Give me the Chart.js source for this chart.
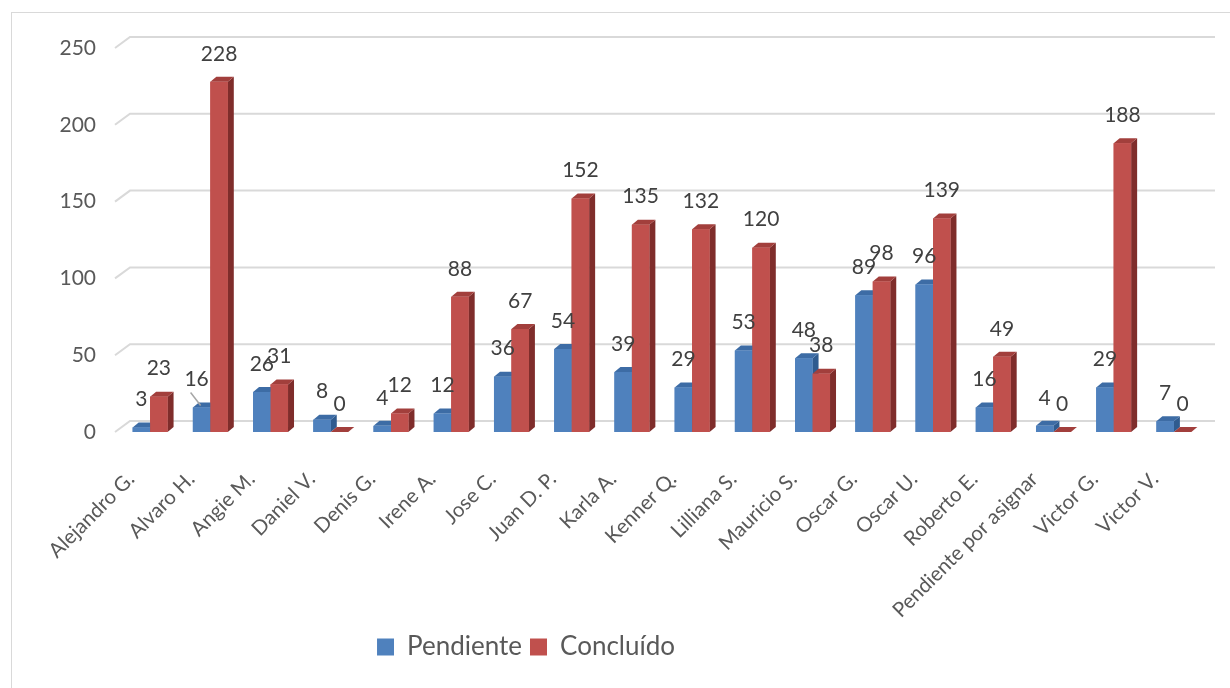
<!DOCTYPE html>
<html>
<head>
<meta charset="utf-8">
<script src="https://cdn.jsdelivr.net/npm/chart.js@4"></script>
<style>
  html, body { margin: 0; padding: 0; background: #fff; }
</style>
</head>
<body>
<canvas id="chart" width="1230" height="688"></canvas>
<script>
const categories = ["Alejandro G.", "Alvaro H.", "Angie M.", "Daniel V.", "Denis G.", "Irene A.", "Jose C.", "Juan D. P.", "Karla A.", "Kenner Q.", "Lilliana S.", "Mauricio S.", "Oscar G.", "Oscar U.", "Roberto E.", "Pendiente por asignar", "Victor G.", "Victor V."];
const pendiente = [3, 16, 26, 8, 4, 12, 36, 54, 39, 29, 53, 48, 89, 96, 16, 4, 29, 7];
const concluido = [23, 228, 31, 0, 12, 88, 67, 152, 135, 132, 120, 38, 98, 139, 49, 0, 188, 0];
const yTicks = [0, 50, 100, 150, 200, 250];

const FONT = "Lato, 'Open Sans', sans-serif";
const DEPTH_X = 6, DEPTH_Y = -5;

// colores: frente, lado, tapa
const shades = [
  { front: "#4f81bd", side: "#2f5b8f", top: "#3d6ca5" },
  { front: "#c0504d", side: "#7f2d2b", top: "#a23f3c" }
];

// marco exterior
const framePlugin = {
  id: "frame",
  beforeDraw(chart) {
    const ctx = chart.ctx;
    ctx.save();
    ctx.fillStyle = "#fff";
    ctx.fillRect(0, 0, chart.width, chart.height);
    ctx.strokeStyle = "#d9d9d9";
    ctx.lineWidth = 1;
    ctx.strokeRect(11.5, 12.5, chart.width, chart.height);
    ctx.restore();
  }
};

// lineas de cuadricula con la pared del fondo
const gridPlugin = {
  id: "grid3d",
  beforeDatasetsDraw(chart) {
    const { ctx, chartArea } = chart;
    const y = chart.scales.y;
    ctx.save();
    ctx.strokeStyle = "#d9d9d9";
    ctx.lineWidth = 2;
    yTicks.forEach(v => {
      const py = y.getPixelForValue(v);
      ctx.beginPath();
      ctx.moveTo(chartArea.left - 5, py);
      ctx.lineTo(chartArea.left + 10, py - 11);
      ctx.lineTo(chartArea.right + 11, py - 11);
      ctx.stroke();
    });
    ctx.restore();
  }
};

// barras con efecto 3D y etiquetas de datos
const barsPlugin = {
  id: "bars3d",
  afterDatasetsDraw(chart) {
    const ctx = chart.ctx;
    ctx.save();
    categories.forEach((c, i) => {
      chart.data.datasets.forEach((ds, d) => {
        const el = chart.getDatasetMeta(d).data[i];
        const w = el.width, l = el.x - w / 2, r = el.x + w / 2;
        const top = el.y, base = el.base;
        const col = shades[d];
        // lado
        ctx.fillStyle = col.side;
        ctx.beginPath();
        ctx.moveTo(r, top);
        ctx.lineTo(r + DEPTH_X, top + DEPTH_Y);
        ctx.lineTo(r + DEPTH_X, base + DEPTH_Y);
        ctx.lineTo(r, base);
        ctx.closePath();
        ctx.fill();
        // tapa
        ctx.fillStyle = col.top;
        ctx.beginPath();
        ctx.moveTo(l, top);
        ctx.lineTo(l + DEPTH_X, top + DEPTH_Y);
        ctx.lineTo(r + DEPTH_X, top + DEPTH_Y);
        ctx.lineTo(r, top);
        ctx.closePath();
        ctx.fill();
        // frente
        ctx.fillStyle = col.front;
        ctx.fillRect(l, top, w, base - top);
      });
    });
    // etiquetas
    ctx.fillStyle = "#404040";
    ctx.font = "21px " + FONT;
    ctx.textAlign = "center";
    ctx.textBaseline = "middle";
    chart.data.datasets.forEach((ds, d) => {
      chart.getDatasetMeta(d).data.forEach((el, i) => {
        // la etiqueta "16" de Alvaro H. esta desplazada con linea guia
        if (d === 0 && i === 1) {
          ctx.fillText(String(ds.data[i]), el.x - 5, el.y - 28);
          ctx.strokeStyle = "#a6a6a6";
          ctx.lineWidth = 1.5;
          ctx.beginPath();
          ctx.moveTo(el.x - 11, el.y - 15);
          ctx.lineTo(el.x - 1, el.y - 2);
          ctx.stroke();
          return;
        }
        ctx.fillText(String(ds.data[i]), el.x, el.y - 28);
      });
    });
    ctx.restore();
  }
};

// mover la leyenda hacia la izquierda como en el original
const legendShift = {
  id: "legendShift",
  afterLayout(chart) {
    const lg = chart.legend;
    if (!lg) return;
    lg.left -= 76;
    lg.right -= 76;
  }
};

new Chart(document.getElementById("chart"), {
  type: "bar",
  data: {
    labels: categories,
    datasets: [
      { label: "Pendiente", data: pendiente, backgroundColor: shades[0].front, categoryPercentage: 0.58, barPercentage: 1.0 },
      { label: "Concluído", data: concluido, backgroundColor: shades[1].front, categoryPercentage: 0.58, barPercentage: 1.0 }
    ]
  },
  options: {
    responsive: false,
    animation: false,
    layout: { padding: { top: 48, right: 26, bottom: 18, left: 0 } },
    plugins: {
      legend: {
        position: "bottom",
        labels: {
          boxWidth: 17,
          boxHeight: 17,
          color: "#595959",
          font: { size: 26, family: FONT },
          padding: 8
        }
      },
      tooltip: { enabled: false }
    },
    scales: {
      x: {
        grid: { display: false },
        border: { display: false },
        ticks: {
          minRotation: 45,
          maxRotation: 45,
          autoSkip: false,
          color: "#595959",
          font: { size: 20.5, family: FONT },
          padding: 27,
          labelOffset: -19
        },
        afterFit(s) { s.height = 194; }
      },
      y: {
        min: 0,
        max: 250,
        grid: { display: false },
        border: { display: false },
        ticks: {
          stepSize: 50,
          color: "#595959",
          font: { size: 21, family: FONT },
          padding: 16
        },
        afterFit(s) { s.width = 120; }
      }
    }
  },
  plugins: [framePlugin, gridPlugin, barsPlugin, legendShift]
});
</script>
</body>
</html>
